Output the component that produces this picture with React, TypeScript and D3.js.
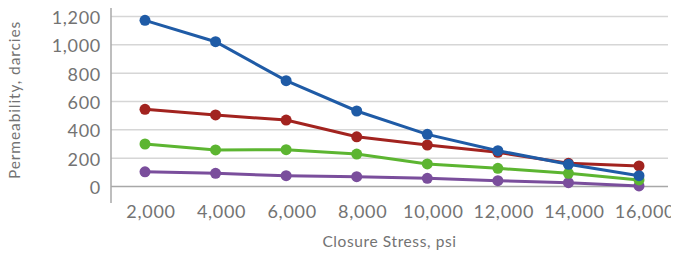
import React, { useEffect, useRef } from "react";
import * as d3 from "d3";

const stress = [2000, 4000, 6000, 8000, 10000, 12000, 14000, 16000];
const yTicks = [0, 200, 400, 600, 800, 1000, 1200];

const blue = [1173, 1022, 747, 533, 368, 253, 157, 76];
const red = [545, 505, 469, 351, 293, 241, 164, 145];
const green = [300, 258, 260, 229, 159, 128, 93, 46];
const purple = [104, 93, 76, 69, 58, 41, 27, 4];

// drawn bottom to top
const series = [
  { name: "purple", color: "#7a4e9c", values: purple },
  { name: "green", color: "#5cb531", values: green },
  { name: "red", color: "#a2231f", values: red },
  { name: "blue", color: "#1f5ba6", values: blue },
];

const W = 679;
const H = 258;
const FONT = "Lato, 'Open Sans', sans-serif";
const TEXT = "#737373";

export default function App() {
  const ref = useRef<SVGSVGElement>(null);

  useEffect(() => {
    const svg = d3.select(ref.current);
    svg.selectAll("*").remove();

    const x = d3.scalePoint<number>().domain(stress).range([145, 639]);
    const y = d3.scaleLinear().domain([0, 1200]).range([186.5, 16.5]);
    const left = 111;
    const right = 668;

    // gridlines
    svg.append("g")
      .selectAll("line")
      .data(yTicks)
      .enter()
      .append("line")
      .attr("x1", left)
      .attr("x2", right)
      .attr("y1", d => y(d))
      .attr("y2", d => y(d))
      .attr("stroke", d => (d === 0 ? "#a8a8a8" : "#d6d6d6"))
      .attr("stroke-width", 1.5);

    // y axis line
    svg.append("line")
      .attr("x1", left)
      .attr("x2", left)
      .attr("y1", 8)
      .attr("y2", 203)
      .attr("stroke", "#a8a8a8")
      .attr("stroke-width", 1.5);

    // y tick labels
    svg.append("g")
      .selectAll("text")
      .data(yTicks)
      .enter()
      .append("text")
      .attr("x", 101)
      .attr("y", d => y(d) + 1)
      .attr("dy", "0.36em")
      .attr("text-anchor", "end")
      .attr("font-family", FONT)
      .attr("font-size", 18)
      .attr("letter-spacing", 0.7)
      .attr("fill", TEXT)
      .text(d => d3.format(",")(d));

    // x tick labels
    svg.append("g")
      .selectAll("text")
      .data(stress)
      .enter()
      .append("text")
      .attr("x", d => (x(d) as number) + 6)
      .attr("y", 218)
      .attr("text-anchor", "middle")
      .attr("font-family", FONT)
      .attr("font-size", 18)
      .attr("letter-spacing", 0.7)
      .attr("fill", TEXT)
      .text(d => d3.format(",")(d));

    // axis titles
    svg.append("text")
      .attr("x", (left + right) / 2)
      .attr("y", 247)
      .attr("text-anchor", "middle")
      .attr("font-family", FONT)
      .attr("font-size", 15.5)
      .attr("letter-spacing", 0.6)
      .attr("fill", TEXT)
      .text("Closure Stress, psi");

    svg.append("text")
      .attr("transform", "translate(20,100) rotate(-90)")
      .attr("text-anchor", "middle")
      .attr("font-family", FONT)
      .attr("font-size", 15.5)
      .attr("letter-spacing", 0.9)
      .attr("fill", TEXT)
      .text("Permeability, darcies");

    const line = d3.line<number>()
      .x((_, i) => x(stress[i]) as number)
      .y(d => y(d));

    series.forEach(s => {
      const g = svg.append("g");
      g.append("path")
        .attr("d", line(s.values))
        .attr("fill", "none")
        .attr("stroke", s.color)
        .attr("stroke-width", 3);
      g.selectAll("circle")
        .data(s.values)
        .enter()
        .append("circle")
        .attr("cx", (_, i) => x(stress[i]) as number)
        .attr("cy", d => y(d))
        .attr("r", 5.5)
        .attr("fill", s.color);
    });
  }, []);

  return (
    <div style={{ margin: -8 }}>
      <svg ref={ref} width={W} height={H} style={{ display: "block", background: "#fff" }} />
    </div>
  );
}
